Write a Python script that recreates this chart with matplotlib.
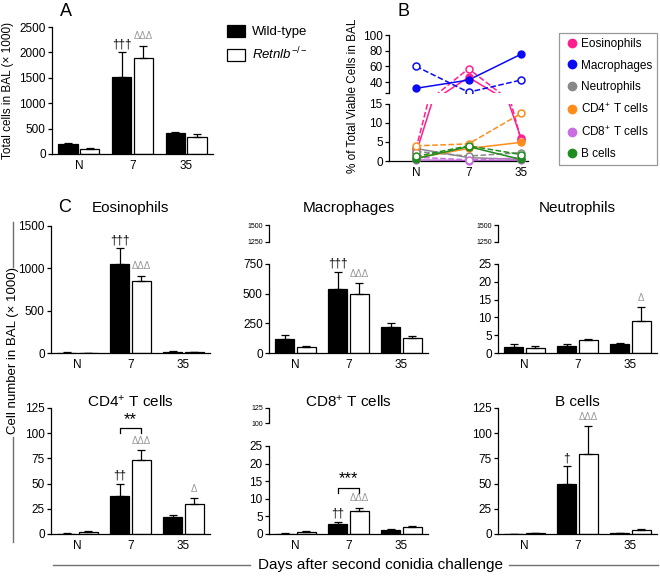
import numpy as np
import matplotlib
matplotlib.use('Agg')
import matplotlib.pyplot as plt
from matplotlib.lines import Line2D

plt.rcParams['font.family'] = ['Liberation Sans', 'DejaVu Sans']
plt.rcParams['mathtext.fontset'] = 'custom'
plt.rcParams['mathtext.rm'] = 'Liberation Sans'
plt.rcParams['mathtext.it'] = 'Liberation Sans:italic'
plt.rcParams['axes.linewidth'] = 0.9
plt.rcParams['xtick.major.width'] = 0.9
plt.rcParams['ytick.major.width'] = 0.9

days = ['N', '7', '35']

# A - total cells in BAL (x1000)
total_wt = [190, 1520, 420]
total_wt_err = [25, 480, 10]
total_ko = [95, 1880, 330]
total_ko_err = [15, 240, 60]

# B - % of total viable cells, WT (solid) and KO (dashed)
cell_types = ['Eosinophils', 'Macrophages', 'Neutrophils',
              'CD4$^{+}$ T cells', 'CD8$^{+}$ T cells', 'B cells']
cell_colors = ['#ff1f8e', '#0a0af5', '#888888', '#ff8c1a', '#c86ee0', '#1e8c1e']
eos_pct_wt = [2.0, 46, 6.0]
eos_pct_ko = [3.2, 57, 5.5]
mac_pct_wt = [32, 42.5, 75.5]
mac_pct_ko = [60, 27, 42.5]
neu_pct_wt = [3.3, 0.9, 0.4]
neu_pct_ko = [2.5, 1.3, 2.2]
cd4_pct_wt = [0.8, 3.3, 4.9]
cd4_pct_ko = [4.0, 4.5, 12.5]
cd8_pct_wt = [0.3, 0.1, 0.2]
cd8_pct_ko = [1.0, 0.3, 0.8]
bc_pct_wt = [0.6, 3.8, 0.4]
bc_pct_ko = [1.2, 4.0, 1.7]

# C - cell numbers in BAL (x1000)
eos_wt = [5, 1050, 15]
eos_wt_err = [2, 185, 3]
eos_ko = [2, 850, 12]
eos_ko_err = [1, 65, 3]
mac_wt = [120, 538, 221]
mac_wt_err = [30, 144, 28]
mac_ko = [52, 498, 125]
mac_ko_err = [8, 90, 18]
neu_wt = [1.8, 1.9, 2.4]
neu_wt_err = [0.6, 0.5, 0.4]
neu_ko = [1.3, 3.6, 9.0]
neu_ko_err = [0.6, 0.3, 4.0]
cd4_wt = [0.3, 38, 17]
cd4_wt_err = [0.2, 12, 1.5]
cd4_ko = [2.0, 73, 30]
cd4_ko_err = [0.5, 10, 6]
cd8_wt = [0.1, 2.7, 1.2]
cd8_wt_err = [0.05, 0.7, 0.2]
cd8_ko = [0.6, 6.6, 2.0]
cd8_ko_err = [0.2, 0.9, 0.4]
bc_wt = [0.3, 50, 1.0]
bc_wt_err = [0.1, 17, 0.3]
bc_ko = [1.0, 79, 4.0]
bc_ko_err = [0.3, 28, 1.0]

W, H = 660, 576
fig = plt.figure(figsize=(W / 100, H / 100), dpi=100)


def px_box(x0, y0, x1, y1):
    return [x0 / W, 1 - y1 / H, (x1 - x0) / W, (y1 - y0) / H]


def style(ax, xlabels=True):
    ax.spines['top'].set_visible(False)
    ax.spines['right'].set_visible(False)
    ax.tick_params(axis='y', length=3, pad=1.5, labelsize=8.5)
    if xlabels:
        ax.set_xticks(range(len(days)))
        ax.set_xticklabels(days)
        ax.tick_params(axis='x', length=0, pad=4, labelsize=8.5)
    else:
        ax.spines['bottom'].set_visible(False)
        ax.set_xticks([])


def draw_bars(ax, wt, wt_err, ko, ko_err):
    x = np.arange(len(days))
    ekw = dict(ecolor='black', elinewidth=0.9, capsize=3, capthick=0.9)
    b1 = ax.bar(x - 0.2, wt, 0.36, color='black', edgecolor='black', linewidth=0.9,
                yerr=[np.zeros(len(wt)), wt_err], error_kw=ekw, label='Wild-type')
    b2 = ax.bar(x + 0.2, ko, 0.36, color='white', edgecolor='black', linewidth=0.9,
                yerr=[np.zeros(len(ko)), ko_err], error_kw=ekw,
                label=r'$\mathit{Retnlb}^{-/-}$')
    ax.set_xlim(-0.5, 2.5)
    return b1, b2


def mark(ax, vals, errs, labels, offset, color, size, dy=1.5):
    for i, (v, e, s) in enumerate(zip(vals, errs, labels)):
        if s:
            ax.annotate(s, (i + offset, v + e), xytext=(0, dy), textcoords='offset points',
                        ha='center', va='bottom', fontsize=size, color=color)


def bracket(ax, i, y, h, stars):
    ax.plot([i - 0.2, i - 0.2, i + 0.2, i + 0.2], [y - h, y, y, y - h], color='black', lw=0.9)
    ax.text(i, y + h * 0.3, stars, ha='center', va='bottom', fontsize=12)


def upper_stub(box, lo, hi):
    ax = fig.add_axes(box)
    style(ax, xlabels=False)
    ax.set_ylim(lo, hi)
    ax.set_yticks([lo, hi])
    ax.tick_params(axis='y', labelsize=5, length=3, pad=1)
    ax.patch.set_alpha(0)
    return ax


# ---- panel A
axA = fig.add_axes(px_box(52, 27, 213, 154))
b1, b2 = draw_bars(axA, total_wt, total_wt_err, total_ko, total_ko_err)
axA.set_ylim(0, 2500)
axA.set_yticks(range(0, 2501, 500))
style(axA)
mark(axA, total_wt, total_wt_err, ['', '†††', ''], -0.2, 'black', 8.5)
mark(axA, total_ko, total_ko_err, ['', 'ΔΔΔ', ''], 0.2, '#999999', 7, dy=4)
fig.text(8 / W, 1 - 90 / H, 'Total cells in BAL (× 1000)', rotation=90,
         ha='center', va='center', fontsize=8.5)
fig.legend(handles=[b1, b2], loc='upper left', bbox_to_anchor=(227 / W, 1 - 25 / H),
           frameon=False, fontsize=9.5, handlelength=1.4, handleheight=1.0,
           handletextpad=0.5, labelspacing=0.55, borderpad=0, borderaxespad=0)

# ---- panel B (broken y axis)
axBu = fig.add_axes(px_box(389, 35, 528, 93))
axBl = fig.add_axes(px_box(389, 104, 528, 161))
style(axBu, xlabels=False)
style(axBl)
xB = np.arange(len(days))
pct_wt = [eos_pct_wt, mac_pct_wt, neu_pct_wt, cd4_pct_wt, cd8_pct_wt, bc_pct_wt]
pct_ko = [eos_pct_ko, mac_pct_ko, neu_pct_ko, cd4_pct_ko, cd8_pct_ko, bc_pct_ko]
for c, wt, ko in zip(cell_colors, pct_wt, pct_ko):
    wt = np.array(wt, dtype=float)
    ko = np.array(ko, dtype=float)
    for ax in (axBu, axBl):
        ax.plot(xB, wt, '-', color=c, lw=1.1, zorder=2)
        ax.plot(xB, ko, '--', color=c, lw=1.1, zorder=2)
    axBu.plot(xB, np.ma.masked_less(wt, 26), 'o', color=c, ms=5, zorder=3)
    axBu.plot(xB, np.ma.masked_less(ko, 26), 'o', mfc='white', mec=c, mew=1.1, ms=5, zorder=3)
    axBl.plot(xB, np.ma.masked_greater(wt, 15), 'o', color=c, ms=5, zorder=3, clip_on=False)
    axBl.plot(xB, np.ma.masked_greater(ko, 15), 'o', mfc='white', mec=c, mew=1.1, ms=5,
              zorder=3, clip_on=False)
for ax in (axBu, axBl):
    ax.set_xlim(-0.514, 2.133)
axBu.set_ylim(26, 100)
axBu.set_yticks([26, 40, 60, 80, 100])
axBu.set_yticklabels(['', '40', '60', '80', '100'])
axBu.patch.set_alpha(0)
axBl.set_ylim(0, 15)
axBl.set_yticks([0, 5, 10, 15])
fig.text(353 / W, 1 - 96 / H, '% of Total Viable Cells in BAL', rotation=90,
         ha='center', va='center', fontsize=8.5)
handles = [Line2D([], [], marker='o', color=c, linestyle='none', markersize=6)
           for c in cell_colors]
leg = fig.legend(handles, cell_types, loc='upper left', bbox_to_anchor=(559 / W, 1 - 33 / H),
                 frameon=True, fancybox=False, fontsize=8.5, borderpad=0.45,
                 handlelength=1.3, handletextpad=0.1, labelspacing=0.78, borderaxespad=0)
leg.get_frame().set_edgecolor('#808080')
leg.get_frame().set_linewidth(0.9)

# ---- panel C
cols = [(51, 210), (269, 428), (498, 657)]
rows = [dict(top=226, bottom=353, stub=(225, 242), low_top=264, title=208),
        dict(top=408, bottom=534, stub=(408, 423), low_top=446, title=402)]

panels = [
    ('Eosinophils', eos_wt, eos_wt_err, eos_ko, eos_ko_err, 1500, 500, None),
    ('Macrophages', mac_wt, mac_wt_err, mac_ko, mac_ko_err, 750, 250, (1250, 1500)),
    ('Neutrophils', neu_wt, neu_wt_err, neu_ko, neu_ko_err, 25, 5, (1250, 1500)),
    ('CD4$^{+}$ T cells', cd4_wt, cd4_wt_err, cd4_ko, cd4_ko_err, 125, 25, None),
    ('CD8$^{+}$ T cells', cd8_wt, cd8_wt_err, cd8_ko, cd8_ko_err, 25, 5, (100, 125)),
    ('B cells', bc_wt, bc_wt_err, bc_ko, bc_ko_err, 125, 25, None),
]
wt_marks = [['', '†††', ''], ['', '†††', ''], ['', '', ''],
            ['', '††', ''], ['', '††', ''], ['', '†', '']]
ko_marks = [['', 'ΔΔΔ', ''], ['', 'ΔΔΔ', ''], ['', '', 'Δ'],
            ['', 'ΔΔΔ', 'Δ'], ['', 'ΔΔΔ', ''], ['', 'ΔΔΔ', '']]

axC = []
for k, (title, wt, wte, ko, koe, ymax, step, stub) in enumerate(panels):
    r = rows[k // 3]
    x0, x1 = cols[k % 3]
    if stub is None:
        ax = fig.add_axes(px_box(x0, r['top'], x1, r['bottom']))
    else:
        ax = fig.add_axes(px_box(x0, r['low_top'], x1, r['bottom']))
        upper_stub(px_box(x0, r['stub'][0], x1, r['stub'][1]), stub[0], stub[1])
    draw_bars(ax, wt, wte, ko, koe)
    ax.set_ylim(0, ymax)
    ax.set_yticks(np.arange(0, ymax + step / 2, step))
    style(ax)
    mark(ax, wt, wte, wt_marks[k], -0.2, 'black', 8.5)
    mark(ax, ko, koe, ko_marks[k], 0.2, '#999999', 7, dy=3)
    fig.text((x0 + x1) / 2 / W, 1 - r['title'] / H, title, ha='center', va='center',
             fontsize=11)
    axC.append(ax)

bracket(axC[3], 1, 105, 5, '**')
bracket(axC[4], 1, 13.1, 1.4, '***')

fig.text(66 / W, 1 - 12 / H, 'A', ha='center', va='center', fontsize=13)
fig.text(404 / W, 1 - 12 / H, 'B', ha='center', va='center', fontsize=13)
fig.text(65 / W, 1 - 208 / H, 'C', ha='center', va='center', fontsize=13)

# shared labels for panel C
fig.text(13 / W, 1 - 351 / H, 'Cell number in BAL (× 1000)', rotation=90,
         ha='center', va='center', fontsize=9.5)
fig.add_artist(Line2D([13 / W, 13 / W], [1 - 222 / H, 1 - 267 / H], color='#707070', lw=1))
fig.add_artist(Line2D([13 / W, 13 / W], [1 - 437 / H, 1 - 542 / H], color='#707070', lw=1))
fig.text(380 / W, 1 - 565 / H, 'Days after second conidia challenge',
         ha='center', va='center', fontsize=11)
fig.add_artist(Line2D([53 / W, 250 / W], [1 - 565 / H, 1 - 565 / H], color='#707070', lw=1))
fig.add_artist(Line2D([509 / W, 658 / W], [1 - 565 / H, 1 - 565 / H], color='#707070', lw=1))

fig.savefig('out.png', dpi=100)
